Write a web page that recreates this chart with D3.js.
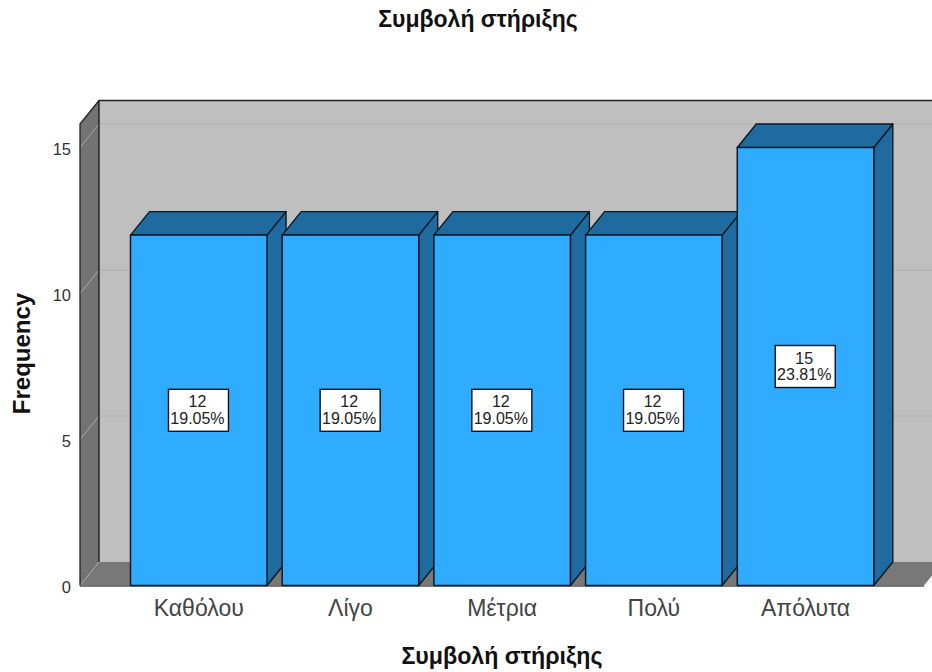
<!DOCTYPE html>
<html><head><meta charset="utf-8">
<script src="https://cdn.jsdelivr.net/npm/d3@7"></script>
<style>html,body{margin:0;padding:0;background:#fff;overflow:hidden}svg{display:block}text{font-family:"Liberation Sans",Arial,sans-serif}</style>
</head><body><svg id="c" width="932" height="672"></svg>
<script>
const categories = ["Καθόλου","Λίγο","Μέτρια","Πολύ","Απόλυτα"];
const counts = [12,12,12,12,15];
const percents = ["19.05%","19.05%","19.05%","19.05%","23.81%"];
const yTicks = [0,5,10,15];
const titleText = "Συμβολή στήριξης";
const xTitle = "Συμβολή στήριξης";
const yTitle = "Frequency";

const svg = d3.select("#c");
const dx = 19, dy = -23.5;
const y = d3.scaleLinear().domain([0,15]).range([585.5,147.5]);
const x = d3.scaleBand().domain(categories).range([130.5,873.8]).paddingInner(0.1).paddingOuter(0);
const left = 80, right = 924, topY = 124, base = y(0);
const poly = (pts, fill, stroke, sw) => svg.append("polygon").attr("points", pts.map(p=>p.join(",")).join(" "))
  .attr("fill", fill).attr("stroke", stroke||"none").attr("stroke-width", sw||0).attr("stroke-linejoin","round");

// back wall
poly([[left+dx,topY+dy],[right+dx+30,topY+dy],[right+dx+30,base+dy],[left+dx,base+dy]],"#bfbfbf");
// floor
poly([[left,base],[left+dx,base+dy],[right+dx,base+dy],[right,base]],"#787878");
// side wall
poly([[left,topY],[left+dx,topY+dy],[left+dx,base+dy],[left,base]],"#737373");
// gridlines
yTicks.forEach(t=>{
  if(t>0) svg.append("line").attr("x1",left+dx).attr("x2",940).attr("y1",y(t)+dy).attr("y2",y(t)+dy).attr("stroke","#b0b0b0").attr("stroke-width",1.2);
  svg.append("line").attr("x1",left).attr("x2",left+dx).attr("y1",y(t)).attr("y2",y(t)+dy).attr("stroke","#a8a8a8").attr("stroke-width",1);
});
// wall outlines
svg.append("path").attr("d",`M${left},${base}L${left},${topY}L${left+dx},${topY+dy}L940,${topY+dy}`).attr("fill","none").attr("stroke","#222").attr("stroke-width",1.3);
svg.append("path").attr("d",`M${left+dx},${topY+dy}L${left+dx},${base+dy}`).attr("fill","none").attr("stroke","#111").attr("stroke-width",1.3);
svg.append("line").attr("x1",left).attr("x2",right).attr("y1",base+0.5).attr("y2",base+0.5).attr("stroke","#555").attr("stroke-width",1.6);

// bars
const cFront="#2fabff", cSide="#1f6a9f", cEdge="#0c1a26";
categories.forEach((c,i)=>{
  const x0=x(c), x1=x0+x.bandwidth(), yt=y(counts[i]);
  poly([[x1,yt],[x1+dx,yt+dy],[x1+dx,base+dy],[x1,base]],cSide,cEdge,1.4);
  poly([[x0,yt],[x0+dx,yt+dy],[x1+dx,yt+dy],[x1,yt]],cSide,cEdge,1.4);
  poly([[x0,yt],[x1,yt],[x1,base],[x0,base]],cFront,cEdge,1.5);
});
// data labels
categories.forEach((c,i)=>{
  const cx=x(c)+x.bandwidth()/2-0.3, cy=y(counts[i]/2);
  const g=svg.append("g");
  g.append("rect").attr("x",cx-30).attr("y",cy-21).attr("width",60).attr("height",42).attr("fill","#fff").attr("stroke","#111").attr("stroke-width",1.4);
  g.append("text").attr("x",cx-1).attr("y",cy-3).attr("text-anchor","middle").attr("font-size",16).attr("fill","#222").text(counts[i]);
  g.append("text").attr("x",cx-1).attr("y",cy+13.5).attr("text-anchor","middle").attr("font-size",16).attr("fill","#222").text(percents[i]);
});
// axes
const ya=svg.append("g").attr("transform",`translate(${left},0)`).call(d3.axisLeft(y).tickValues(yTicks).tickSize(0).tickPadding(9));
ya.select(".domain").remove();
ya.selectAll("text").attr("font-size",16.5).attr("dy","0.42em").attr("fill","#333").style("font-family",'"Liberation Sans"');
const xa=svg.append("g").attr("transform",`translate(0,${base})`).call(d3.axisBottom(x).tickSize(0).tickPadding(14));
xa.select(".domain").remove();
xa.selectAll("text").attr("font-size",23).attr("fill","#444").style("font-family",'"Liberation Sans"').style("font-weight",300);
// titles
svg.append("text").attr("x",478).attr("y",27).attr("text-anchor","middle").attr("font-size",23).attr("font-weight","bold").attr("fill","#111").text(titleText);
svg.append("text").attr("x",502).attr("y",664).attr("text-anchor","middle").attr("font-size",23.2).attr("font-weight","bold").attr("fill","#111").text(xTitle);
svg.append("text").attr("transform","translate(30,353.5) rotate(-90)").attr("text-anchor","middle").attr("font-size",24).attr("font-weight","bold").attr("fill","#111").text(yTitle);
</script></body></html>
